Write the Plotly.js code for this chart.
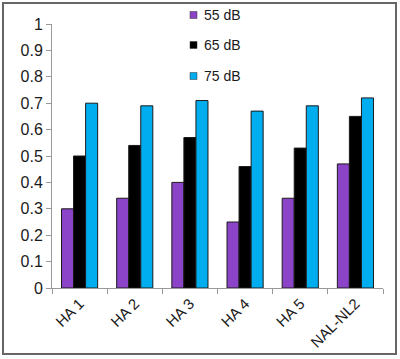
<!DOCTYPE html>
<html>
<head>
<meta charset="utf-8">
<script src="https://cdn.plot.ly/plotly-3.0.1.min.js"></script>
<style>html,body{margin:0;padding:0;background:#fff;}#chart{width:400px;height:359px;}</style>
</head>
<body>
<div id="chart"></div>
<script>
const categories = ["HA 1", "HA 2", "HA 3", "HA 4", "HA 5", "NAL-NL2"];
const seriesNames = ["55 dB", "65 dB", "75 dB"];
const values55 = [0.30, 0.34, 0.40, 0.25, 0.34, 0.47];
const values65 = [0.50, 0.54, 0.57, 0.46, 0.53, 0.65];
const values75 = [0.70, 0.69, 0.71, 0.67, 0.69, 0.72];
const yTicks = [0, 0.1, 0.2, 0.3, 0.4, 0.5, 0.6, 0.7, 0.8, 0.9, 1];
const colors = ["#8B44C8", "#000000", "#00AEEF"];

const allValues = [values55, values65, values75];
const traces = allValues.map((v, i) => ({
  type: "bar",
  name: seriesNames[i],
  x: categories,
  y: v,
  showlegend: false,
  marker: {color: colors[i], line: {color: "#1a1a1a", width: 1}}
}));

// plot area in pixels: left 52, right 383, top 24, bottom 288
const px = x => (x - 52) / 331;
const py = y => (288 - y) / 264;

const shapes = [{
  type: "rect", xref: "paper", yref: "paper",
  x0: px(3), x1: px(396), y0: py(354), y1: py(3),
  line: {color: "#666", width: 2}
}];
const annotations = [];
const legendY = [15, 45, 76];
seriesNames.forEach((name, i) => {
  shapes.push({
    type: "rect", xref: "paper", yref: "paper",
    x0: px(190), x1: px(197), y0: py(legendY[i] + 3.5), y1: py(legendY[i] - 3.5),
    fillcolor: colors[i], line: {color: "#333", width: 0.5}
  });
  annotations.push({
    xref: "paper", yref: "paper", x: px(202), y: py(legendY[i]),
    xanchor: "left", yanchor: "middle", showarrow: false,
    text: name, font: {size: 14, color: "#1a1a1a"}
  });
});

const layout = {
  width: 400, height: 359,
  margin: {l: 52, r: 17, t: 24, b: 71},
  paper_bgcolor: "#fff", plot_bgcolor: "#fff",
  font: {family: "Liberation Sans, Arial, sans-serif", color: "#1a1a1a", size: 15},
  barmode: "group",
  bargap: 0.345,
  bargroupgap: 0,
  showlegend: false,
  xaxis: {
    type: "category",
    tickson: "boundaries",
    ticks: "outside", ticklen: 5, tickcolor: "#999",
    showline: true, linecolor: "#999", linewidth: 1,
    tickangle: -45,
    tickfont: {size: 15},
    showgrid: false, zeroline: false
  },
  yaxis: {
    range: [0, 1],
    tickvals: yTicks,
    ticktext: yTicks.map(t => String(t)),
    ticks: "outside", ticklen: 5, tickcolor: "#999",
    showline: true, linecolor: "#999", linewidth: 1,
    showgrid: false, zeroline: false,
    tickfont: {size: 16}
  },
  shapes: shapes,
  annotations: annotations
};

Plotly.newPlot("chart", traces, layout, {displayModeBar: false, staticPlot: true});
</script>
</body>
</html>
